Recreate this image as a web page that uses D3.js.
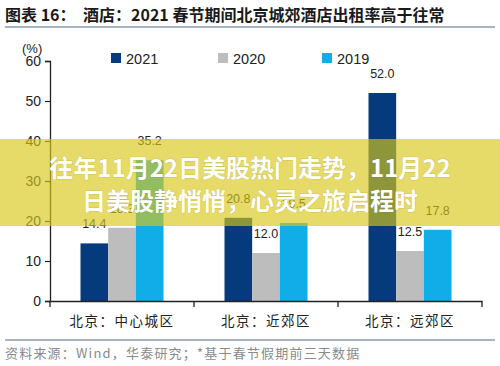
<!DOCTYPE html>
<html><head><meta charset="utf-8">
<script src="https://cdn.jsdelivr.net/npm/d3@7"></script>
<style>body{margin:0;background:#fff}svg{display:block}</style>
</head><body>
<script>
const categories = ["北京：中心城区", "北京：近郊区", "北京：远郊区"];
const series = ["2021", "2020", "2019"];
const values2021 = [14.4, 20.8, 52.0];
const values2020 = [18.3, 12.0, 12.5];
const values2019 = [35.2, 19.5, 17.8];
const yTicks = [0, 10, 20, 30, 40, 50, 60];
const colors = ["#053a7c", "#bdbdbd", "#10ade9"];
const title1 = "图表 16：";
const title2 = "酒店：2021 春节期间北京城郊酒店出租率高于往常";
const source = "资料来源：Wind，华泰研究；*基于春节假期前三天数据";
const bannerLines = ["往年11月22日美股热门走势，11月22", "日美股静悄悄，心灵之旅启程时"];

const data = categories.map((c, i) => ({cat: c, vals: [values2021[i], values2020[i], values2019[i]]}));

const W = 500, H = 366;
const svg = d3.select("body").append("svg").attr("width", W).attr("height", H);
const sans = "'Liberation Sans', Arial, sans-serif";
const cjk = "'Noto Sans CJK SC', sans-serif";

// title
svg.append("text").attr("x", 5).attr("y", 21).attr("font-family", cjk).attr("font-weight", "bold")
  .attr("font-size", 16).attr("fill", "#1a1a1a").text(title1);
svg.append("text").attr("x", 83).attr("y", 21).attr("font-family", cjk).attr("font-weight", "bold")
  .attr("font-size", 16).attr("fill", "#1a1a1a").text(title2);
svg.append("line").attr("x1", 5).attr("x2", 495).attr("y1", 27).attr("y2", 27)
  .attr("stroke", "#8c9ab0").attr("stroke-width", 1.5);

const y = d3.scaleLinear().domain([0, 60]).range([301, 61]);
const x = d3.scaleBand().domain(categories).range([50, 482]).padding(0);
const xs = d3.scaleBand().domain(series).range([30.5, 113.5]).padding(0);

// y axis
const yAxis = svg.append("g").attr("transform", "translate(50,0)")
  .call(d3.axisLeft(y).tickValues(yTicks).tickSize(5).tickPadding(4));
yAxis.select(".domain").attr("stroke", "#222").attr("stroke-width", 1.3);
yAxis.selectAll(".tick line").attr("stroke", "#222").attr("stroke-width", 1.2);
yAxis.selectAll(".tick text").attr("font-family", sans).attr("font-size", 14).attr("fill", "#222");
svg.append("text").attr("x", 22).attr("y", 53).attr("font-family", sans).attr("font-size", 13)
  .attr("fill", "#222").text("(%)");

// bars
const groups = svg.append("g").selectAll("g").data(data).join("g")
  .attr("transform", d => `translate(${x(d.cat)},0)`);
groups.selectAll("rect").data(d => d.vals.map((v, i) => ({s: series[i], v, i}))).join("rect")
  .attr("x", d => xs(d.s)).attr("width", xs.bandwidth())
  .attr("y", d => y(d.v)).attr("height", d => y(0) - y(d.v))
  .attr("fill", d => colors[d.i]);
groups.selectAll("text.val").data(d => d.vals.map((v, i) => ({s: series[i], v, i}))).join("text")
  .attr("class", "val")
  .attr("x", d => xs(d.s) + xs.bandwidth() / 2).attr("y", d => y(d.v) - 15)
  .attr("text-anchor", "middle").attr("font-family", sans).attr("font-size", 12.5).attr("fill", "#222")
  .text(d => d3.format(".1f")(d.v));

// x axis
const xAxis = svg.append("g").attr("transform", "translate(0,301)")
  .call(d3.axisBottom(x).tickSize(0).tickPadding(15));
xAxis.select(".domain").attr("stroke", "#222").attr("stroke-width", 1.3);
xAxis.selectAll(".tick text").attr("font-family", cjk).attr("font-size", 13.5)
  .attr("letter-spacing", 1.5).attr("fill", "#222");
svg.append("g").selectAll("line").data([50, 194, 338, 482]).join("line")
  .attr("x1", d => d).attr("x2", d => d).attr("y1", 301).attr("y2", 307)
  .attr("stroke", "#222").attr("stroke-width", 1.3);

// legend
const legX = [111, 218, 322];
const leg = svg.append("g").selectAll("g").data(series).join("g")
  .attr("transform", (d, i) => `translate(${legX[i]},53)`);
leg.append("rect").attr("width", 10).attr("height", 10).attr("fill", (d, i) => colors[i]);
leg.append("text").attr("x", 15).attr("y", 10.5).attr("font-family", sans).attr("font-size", 14.5)
  .attr("fill", "#222").text(d => d);

// bottom line and source
svg.append("line").attr("x1", 5).attr("x2", 495).attr("y1", 340).attr("y2", 340)
  .attr("stroke", "#8c9ab0").attr("stroke-width", 1.5);
svg.append("text").attr("x", 5).attr("y", 358).attr("font-family", cjk).attr("font-size", 13)
  .attr("letter-spacing", 1.2).attr("fill", "#8a8a8a").text(source);

// banner overlay
svg.append("rect").attr("x", 0).attr("y", 139).attr("width", W).attr("height", 87)
  .attr("fill", "rgb(216,200,24)").attr("fill-opacity", 0.65);
svg.append("g").selectAll("text").data(bannerLines).join("text")
  .attr("x", 250).attr("y", (d, i) => 177 + i * 33)
  .attr("text-anchor", "middle").attr("font-family", cjk).attr("font-weight", "bold")
  .attr("font-size", 24).attr("fill", "#fff")
  .attr("style", "paint-order:stroke").attr("stroke", "rgba(120,110,20,0.25)").attr("stroke-width", 1)
  .text(d => d);
</script>
</body></html>
